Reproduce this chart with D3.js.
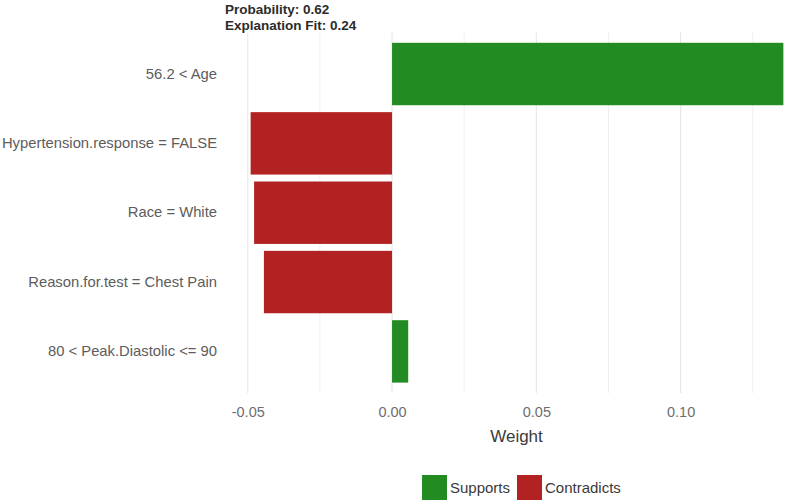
<!DOCTYPE html>
<html>
<head>
<meta charset="utf-8">
<script src="https://cdn.jsdelivr.net/npm/d3@7"></script>
<style>
  body { margin: 0; background: #fff; }
  text { font-family: "Liberation Sans", Arial, sans-serif; }
</style>
</head>
<body>
<svg id="lime" width="787" height="503"></svg>
<script>
// feature labels, top to bottom
var features = ["56.2 < Age", "Hypertension.response = FALSE", "Race = White",
                "Reason.for.test = Chest Pain", "80 < Peak.Diastolic <= 90"];
var weights = [0.1356, -0.0490, -0.0478, -0.0444, 0.0056];
var xTicks = [-0.05, 0.00, 0.05, 0.10];
var minorTicks = [-0.025, 0.025, 0.075, 0.125];
var titleLines = ["Probability: 0.62", "Explanation Fit: 0.24"];
var legendKeys = ["Supports", "Contradicts"];

var svg = d3.select("#lime"),
    panel = {left: 224, right: 810, top: 32.4, bottom: 393};

var color = d3.scaleOrdinal()
  .domain(legendKeys)
  .range(["#228B22", "#B22222"]);

// ggplot style 5% expansion on the data range
var lo = d3.min(weights.concat([0])), hi = d3.max(weights.concat([0])),
    pad = (hi - lo) * 0.05;
var x = d3.scaleLinear().domain([lo - pad, hi + pad]).range([panel.left, panel.right]);

var y = d3.scaleBand()
  .domain(features)
  .range([panel.top, panel.bottom])
  .paddingInner(0.1)
  .paddingOuter(0.15);

var data = features.map(function(f, i) {
  return {feature: f, weight: weights[i], type: weights[i] >= 0 ? "Supports" : "Contradicts"};
});

// grid
svg.append("g").selectAll("line.minor")
  .data(minorTicks)
  .enter().append("line")
  .attr("x1", function(d) { return x(d); })
  .attr("x2", function(d) { return x(d); })
  .attr("y1", panel.top).attr("y2", panel.bottom)
  .style("stroke", "#efefef").style("stroke-width", 1);

svg.append("g").selectAll("line.major")
  .data(xTicks)
  .enter().append("line")
  .attr("x1", function(d) { return x(d); })
  .attr("x2", function(d) { return x(d); })
  .attr("y1", panel.top).attr("y2", panel.bottom)
  .style("stroke", "#e6e6e6").style("stroke-width", 1.1);

// bars
svg.append("g").selectAll("rect")
  .data(data)
  .enter().append("rect")
  .attr("x", function(d) { return x(Math.min(0, d.weight)); })
  .attr("width", function(d) { return Math.abs(x(d.weight) - x(0)); })
  .attr("y", function(d) { return y(d.feature); })
  .attr("height", y.bandwidth())
  .style("fill", function(d) { return color(d.type); });

// x axis (plain hyphen for negatives, like R)
var fmt = d3.format(".2f");
var xAxis = d3.axisBottom(x)
  .tickValues(xTicks)
  .tickFormat(function(d) { return fmt(d).replace("\u2212", "-"); })
  .tickSize(0)
  .tickPadding(14);

var gx = svg.append("g")
  .attr("transform", "translate(0," + panel.bottom + ")")
  .call(xAxis);
gx.select(".domain").remove();
gx.selectAll("text")
  .style("font-family", "'Liberation Sans', Arial, sans-serif")
  .style("font-size", "14.5px")
  .style("fill", "#6e6e6e");

// y axis
var gy = svg.append("g")
  .attr("transform", "translate(" + panel.left + ",0)")
  .call(d3.axisLeft(y).tickSize(0).tickPadding(7));
gy.select(".domain").remove();
gy.selectAll("text")
  .style("font-family", "'Liberation Sans', Arial, sans-serif")
  .style("font-size", "14.8px")
  .style("fill", "#5c5c5c");

// axis title
svg.append("text")
  .attr("x", (panel.left + panel.right) / 2 - 0.5)
  .attr("y", 442)
  .attr("text-anchor", "middle")
  .style("font-size", "17px")
  .style("fill", "#3a3a3a")
  .text("Weight");

// title lines
svg.append("g").selectAll("text")
  .data(titleLines)
  .enter().append("text")
  .attr("x", panel.left + 1)
  .attr("y", function(d, i) { return 14 + i * 16; })
  .style("font-size", "13.5px")
  .style("font-weight", "bold")
  .style("fill", "#2b2b2b")
  .text(function(d) { return d; });

// legend
var legendX = [422, 517];
var lg = svg.append("g").selectAll("g")
  .data(legendKeys)
  .enter().append("g")
  .attr("transform", function(d, i) { return "translate(" + legendX[i] + ",475)"; });

lg.append("rect")
  .attr("width", 25).attr("height", 25)
  .style("fill", function(d) { return color(d); });

lg.append("text")
  .attr("x", 28)
  .attr("y", 18)
  .style("font-size", "15px")
  .style("fill", "#3a3a3a")
  .text(function(d) { return d; });
</script>
</body>
</html>
